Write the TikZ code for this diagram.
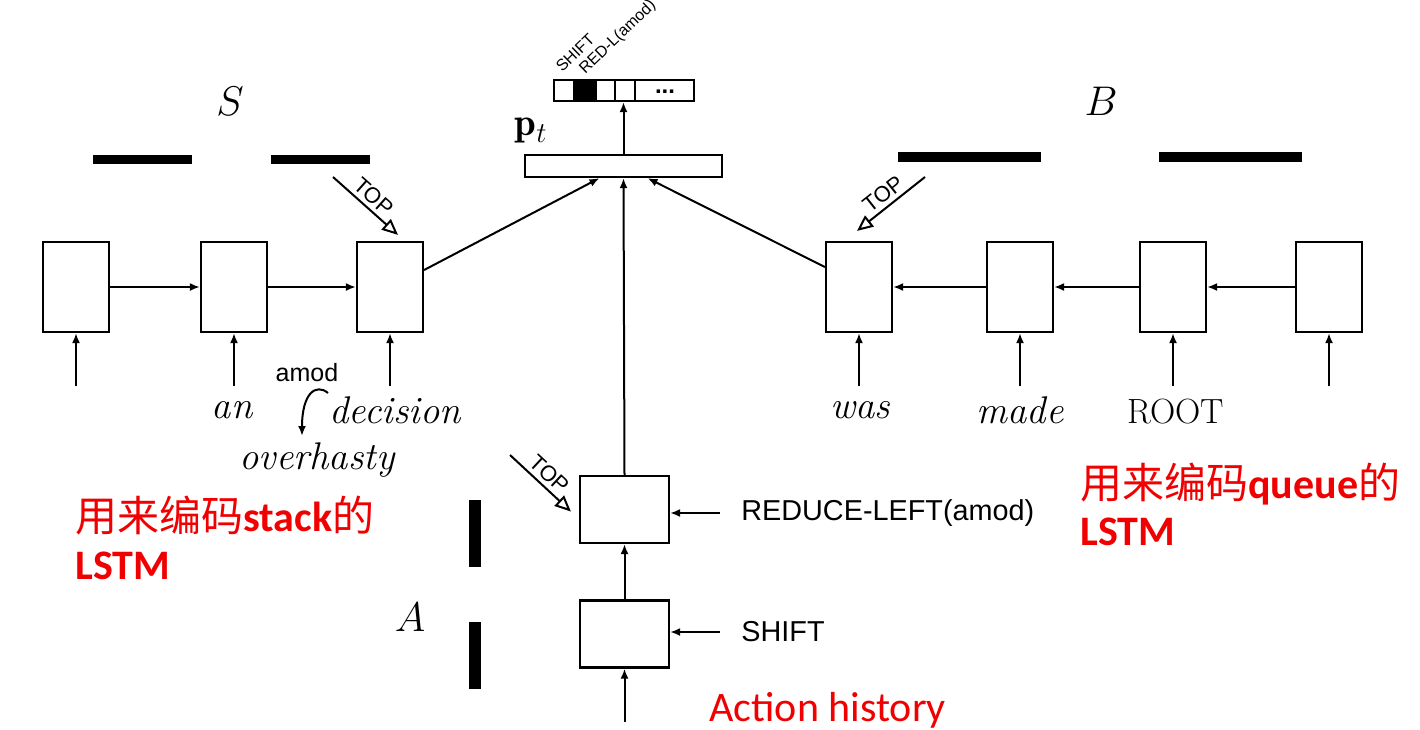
\documentclass[tikz,border=0pt]{standalone}
\usepackage{fontspec}
\newfontfamily\sansf{Liberation Sans}
\newfontfamily\calf{Carlito}
\newfontfamily\cjk{Noto Sans CJK SC}
\usetikzlibrary{arrows.meta,calc}
\definecolor{myred}{RGB}{240,0,0}
\begin{document}
\begin{tikzpicture}[x=0.5pt,y=-0.5pt,
  box/.style={draw,line width=1.1pt,minimum width=33pt,minimum height=45pt,inner sep=0pt},
  abox/.style={draw,line width=1.1pt,minimum width=44.5pt,minimum height=33.5pt,inner sep=0pt},
  arr/.style={line width=1pt,-{Latex[length=5pt,width=4pt]}},
  toparr/.style={line width=1pt,-{Triangle[open,length=8pt,width=7pt,line width=1pt]}},
  word/.style={font=\fontsize{19.3}{21}\selectfont\itshape,inner sep=0pt},
  bigsym/.style={font=\fontsize{19.5}{21}\selectfont,inner sep=0pt},
  lab/.style={font=\sansf\fontsize{14.4}{16}\selectfont,inner sep=0pt,anchor=west},
  toplab/.style={font=\sansf\fontsize{11}{12}\selectfont,sloped,above,inner sep=2pt},
  tiny/.style={font=\sansf\fontsize{8}{9}\selectfont,rotate=44,anchor=base west,inner sep=0pt},
  redtxt/.style={text=myred,anchor=west,inner sep=0pt,font=\fontsize{21}{24}\selectfont}
]
\useasboundingbox (0,0) rectangle (1420,729);

% output vector
\node[draw,line width=1.1pt,minimum width=70pt,minimum height=10.5pt,inner sep=0pt] (out) at (624,90.5) {};
\fill (574,80) rectangle (596,101);
\draw[line width=1.1pt] (574,80) -- (574,101) (596,80) -- (596,101) (615,80) -- (615,101) (635,80) -- (635,101);
\node[font=\sansf\bfseries\fontsize{12}{12}\selectfont,inner sep=0pt,anchor=base] (dots) at (665,93) {...};
\node[tiny] (lshift) at (562,73) {SHIFT};
\node[tiny] (lred) at (585,75) {RED-L(amod)};

% p_t
\node[draw,line width=1.1pt,minimum width=98.5pt,minimum height=11pt,inner sep=0pt] (pt) at (623.5,166) {};
\node[font=\fontsize{19.5}{21}\selectfont,inner sep=0pt] (ptl) at (531,131) {$\mathbf{p}_t$};
\draw[arr] (pt.north) -- (pt.north |- out.south);

% S, B, A labels
\node[bigsym] (S) at (230,101) {$S$};
\node[bigsym] (B) at (1101,101) {$B$};
\node[bigsym] (A) at (410,617) {$A$};

% bars
\fill (93,155) rectangle (192,164);
\fill (271,155) rectangle (370,164);
\fill (898,152) rectangle (1041,162);
\fill (1159,152) rectangle (1302,162);
\fill (469,500) rectangle (481,567);
\fill (469,622) rectangle (481,689);

% stack LSTM
\node[box] (s1) at (76,287) {};
\node[box] (s2) at (234,287) {};
\node[box] (s3) at (390,287) {};
\draw[arr] (s1) -- (s2);
\draw[arr] (s2) -- (s3);

% queue LSTM
\node[box] (q1) at (859,287) {};
\node[box] (q2) at (1020,287) {};
\node[box] (q3) at (1173,287) {};
\node[box] (q4) at (1329,287) {};
\draw[arr] (q4) -- (q3);
\draw[arr] (q3) -- (q2);
\draw[arr] (q2) -- (q1);

% inputs
\foreach \n in {s1,s2,s3,q1,q2,q3,q4} {
  \coordinate (in-\n) at ($(\n.south)+(0,53)$);
  \draw[arr] (in-\n) -- (\n.south);
}

% words
\node[word] (w-an) at (232,410) {an};
\node[word] (w-dec) at (395,410) {decision};
\node[word] (w-over) at (317,460) {overhasty};
\node[word] (w-was) at (860,410) {was};
\node[word] (w-made) at (1020,410) {made};
\node[font=\fontsize{17.5}{19}\selectfont,inner sep=0pt] (w-root) at (1176,412) {ROOT};
\node[font=\sansf\fontsize{12.5}{14}\selectfont,inner sep=0pt] (amod) at (307,373) {amod};
\coordinate (amodA) at (328,393);
\coordinate (amodB) at (302,436);
\draw[arr] (amodA) .. controls (316,383) and (302,393) .. (amodB);

% action LSTM
\node[abox] (a1) at (624.5,509.5) {};
\node[abox] (a2) at (624.5,634) {};
\draw[arr] (a2) -- (a1);
\coordinate (in-a) at ($(a2.south)+(0,53)$);
\draw[arr] (in-a) -- (a2.south);
\node[lab] (rl) at (741,513) {REDUCE-LEFT(amod)};
\node[lab] (sh) at (741,632) {SHIFT};
\draw[arr] (rl.west) ++(-21,0) coordinate (rlA) -- (a1.east |- rlA);
\draw[arr] (sh.west) ++(-21,0) coordinate (shA) -- (a2.east |- shA);

% to p_t
\draw[arr] ([yshift=8.5pt]s3.east) -- ([xshift=-12pt]pt.south);
\draw[arr] ([yshift=10pt]q1.west) -- ([xshift=12pt]pt.south);
\draw[arr] (a1.north) -- (pt.south);

% TOP arrows
\coordinate (ts) at (333,177);
\draw[toparr] (ts) -- node[toplab] {TOP} ([xshift=4pt,yshift=3pt]s3.north);
\coordinate (tq) at (925,177);
\draw[toparr] (tq) -- node[toplab] {TOP} ([xshift=-1pt,yshift=5pt]q1.north);
\coordinate (ta) at (510,455);
\draw[toparr] (ta) -- node[toplab] {TOP} ([xshift=-4pt,yshift=-1pt]a1.west);

% red annotations
\node[redtxt] (r1) at (75,516) {{\cjk 用来编码}{\calf\bfseries stack}{\cjk 的}};
\node[redtxt] (r2) at (75,566) {{\calf\bfseries LSTM}};
\node[redtxt] (r3) at (1080,484) {{\cjk 用来编码}{\calf\bfseries queue}{\cjk 的}};
\node[redtxt] (r4) at (1080,532) {{\calf\bfseries LSTM}};
\node[redtxt,font=\calf\fontsize{21}{24}\selectfont] (r5) at (709,710) {Action history};
\end{tikzpicture}
\end{document}
